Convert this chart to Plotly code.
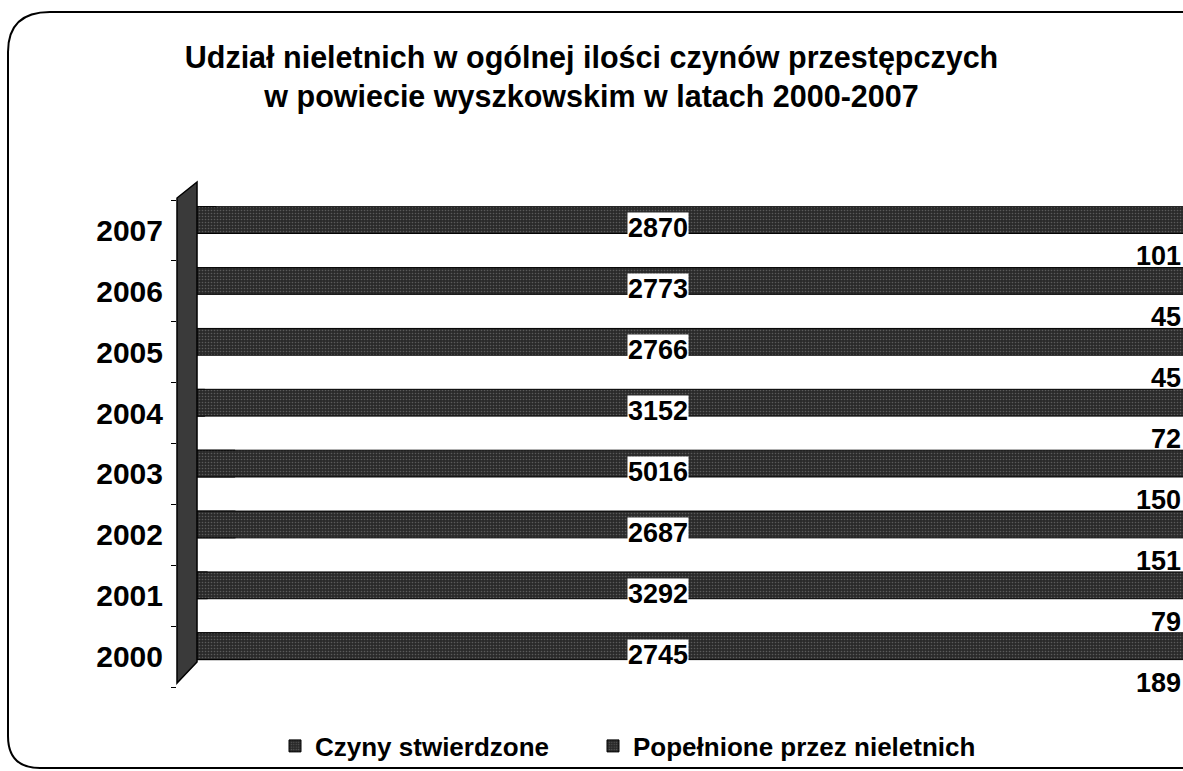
import plotly.graph_objects as go

# ---- data ----
years = ['2000', '2001', '2002', '2003', '2004', '2005', '2006', '2007']
czyny_stwierdzone = [2745, 3292, 2687, 5016, 3152, 2766, 2773, 2870]
popelnione_nieletni = [189, 79, 151, 150, 72, 45, 45, 101]

series_names = ['Czyny stwierdzone', 'Popełnione przez nieletnich']
title_lines = ['Udział nieletnich w ogólnej ilości czynów przestępczych',
               'w powiecie wyszkowskim w latach 2000-2007']

# ---- layout geometry (pixels) ----
W, H = 1183, 771
L, R, T, B = 177, 0, 200, 84
PW, PH = W - L - R, H - T - B


def px(x):
    return (x - L) / PW


def py(y):
    return (H - B - y) / PH


FONT = 'Liberation Sans, Arial, sans-serif'
BAR_BG = '#2a2a2a'
pattern = dict(shape='.', fgcolor='#8a8a8a', bgcolor=BAR_BG, size=3, solidity=0.22)

fig = go.Figure()
# smaller series first: it sits hidden behind the longer series, as in the original 3D chart
fig.add_trace(go.Bar(
    y=years, x=popelnione_nieletni, name=series_names[1], orientation='h',
    width=0.44, offset=-0.05, legend='legend2',
    marker=dict(color=BAR_BG, pattern=pattern, line=dict(color='black', width=1)),
))
fig.add_trace(go.Bar(
    y=years, x=czyny_stwierdzone, name=series_names[0], orientation='h',
    width=0.44, offset=-0.05, legend='legend',
    marker=dict(color=BAR_BG, pattern=pattern, line=dict(color='black', width=1)),
))

annotations = []
for i, v in enumerate(czyny_stwierdzone):
    annotations.append(dict(
        x=0.478, xref='paper', y=i, yref='y', text=str(v), showarrow=False,
        bgcolor='white', borderpad=0, yshift=2,
        font=dict(family=FONT, size=27, color='black', weight='bold'),
    ))
for i, v in enumerate(popelnione_nieletni):
    annotations.append(dict(
        x=1, xref='paper', xanchor='right', y=i, yref='y', text=str(v),
        showarrow=False, yshift=-26,
        font=dict(family=FONT, size=27, color='black', weight='bold'),
    ))

# 3D-like left wall and rounded frame
wall = ('M {:.4f},{:.4f} L {:.4f},{:.4f} L {:.4f},{:.4f} L {:.4f},{:.4f} Z'.format(
    px(177), py(198), px(197), py(182), px(197), py(662), px(177), py(683)))
frame = ('M {a},{b} L {c},{b} Q {d},{b} {d},{e} L {d},{f} Q {d},{g} {h},{g} L {a},{g}'.format(
    a=px(1190), b=py(12), c=px(50), d=px(8), e=py(52), f=py(736), g=py(768), h=px(40)))

shapes = [
    dict(type='path', xref='paper', yref='paper', path=wall, layer='above',
         fillcolor='#3a3a3a', line=dict(color='black', width=1.5)),
    dict(type='path', xref='paper', yref='paper', path=frame, layer='below',
         line=dict(color='black', width=2)),
]

legend_font = dict(family=FONT, size=26, color='black', weight='bold')

fig.update_layout(
    width=W, height=H,
    margin=dict(l=L, r=R, t=T, b=B),
    paper_bgcolor='white', plot_bgcolor='white',
    barmode='overlay',
    title=dict(text='<br>'.join(title_lines), x=0.5, xanchor='center',
               y=0.938, yanchor='top', pad=dict(t=20),
               font=dict(family=FONT, size=30.5, color='black', weight='bold')),
    xaxis=dict(range=[0, 2600], visible=False, fixedrange=True),
    yaxis=dict(type='category', categoryorder='array', categoryarray=years,
               range=[-0.5, 7.5], autorange=False,
               ticks='outside', ticklen=5, tickcolor='black', tickson='boundaries',
               showline=False, showgrid=False, ticklabelstandoff=13,
               tickfont=dict(family=FONT, size=30, color='black', weight='bold')),
    legend=dict(orientation='h', x=px(275), xanchor='left', y=py(746), yanchor='middle',
                font=legend_font, bgcolor='rgba(0,0,0,0)'),
    legend2=dict(orientation='h', x=px(593), xanchor='left', y=py(746), yanchor='middle',
                 font=legend_font, bgcolor='rgba(0,0,0,0)'),
    annotations=annotations,
    shapes=shapes,
    showlegend=True,
)

fig.write_html('out.html', config={'displayModeBar': False},
               post_script="document.body.style.margin='0';")
